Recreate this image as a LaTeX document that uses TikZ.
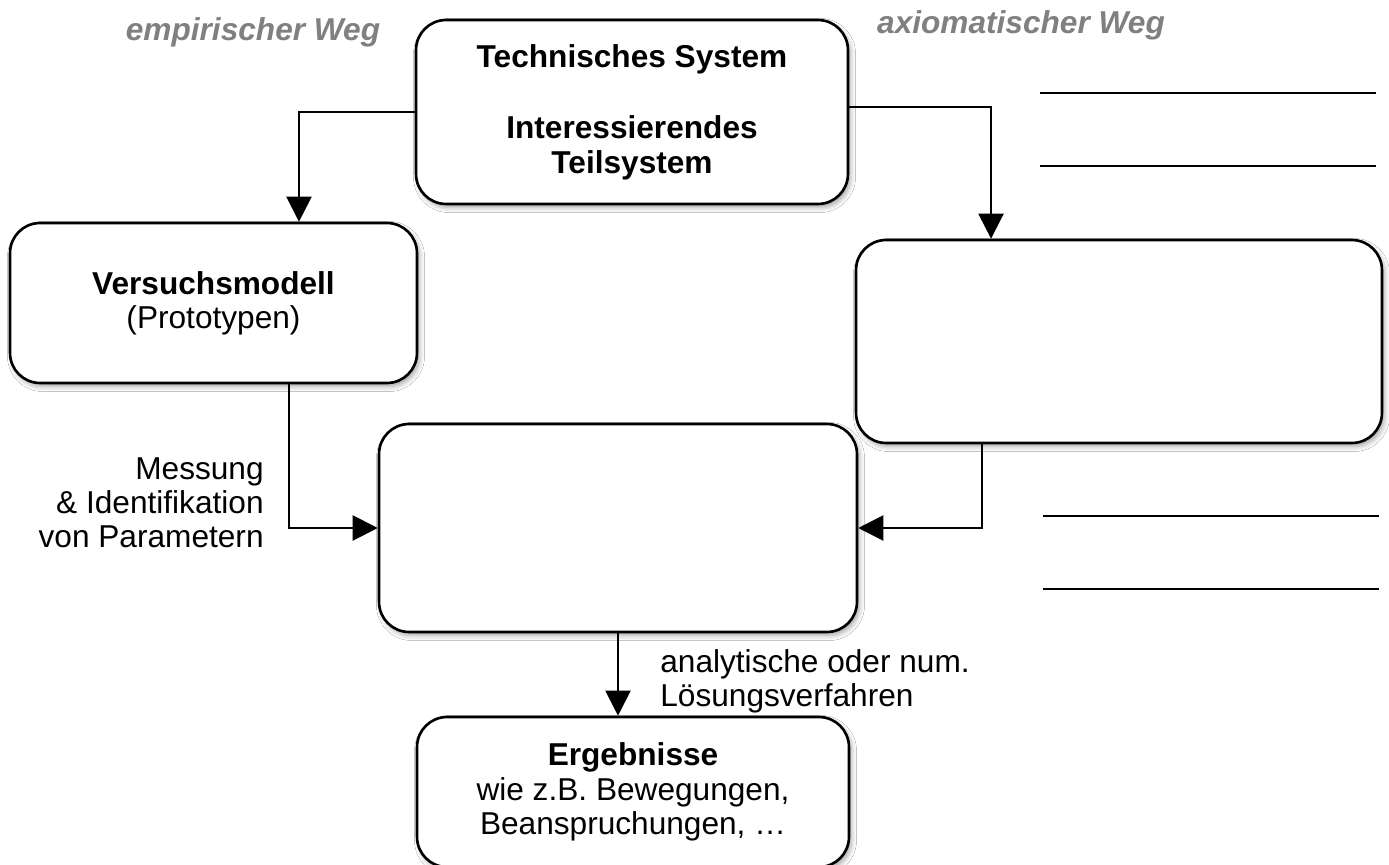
\documentclass[tikz,border=0pt]{standalone}
\usepackage{fontspec}
\setmainfont{Liberation Sans}
\usetikzlibrary{arrows.meta,shadows.blur,calc}
\definecolor{labgray}{HTML}{808080}
\tikzset{
  box/.style={draw=black, line width=1.5pt, fill=white, rounded corners=0.6cm,
    inner sep=0pt, align=center, font=\fontsize{18}{19.5}\selectfont,
    blur shadow={shadow xshift=0.05cm, shadow yshift=-0.07cm, shadow blur radius=0.1cm, shadow opacity=35}},
  arr/.style={draw=black, line width=1.2pt, -{Triangle[length=0.5cm,width=0.5cm]}},
  lab/.style={font=\fontsize{18}{19.5}\selectfont, inner sep=0pt},
  waylab/.style={font=\fontsize{18}{19.5}\selectfont\bfseries\itshape, text=labgray, inner sep=0pt, anchor=base},
  blank/.style={draw=black, line width=0.8pt}
}
\begin{document}
\begin{tikzpicture}[x=0.02cm, y=-0.02cm]
\useasboundingbox (0,0) rectangle (1389,865);
\fill[white] (0,0) rectangle (1389,865);

\node[waylab] (emp) at (253,41) {empirischer Weg};
\node[waylab] (axw) at (1021,34) {axiomatischer Weg};

\node[box, minimum width=8.64cm, minimum height=3.68cm] (tech) at (632,112)
  {\textbf{Technisches System}\\[0.75cm]\textbf{Interessierendes}\\\textbf{Teilsystem}};
\node[box, minimum width=8.14cm, minimum height=3.2cm] (vers) at (213.5,303)
  {\textbf{Versuchsmodell}\\(Prototypen)};
\node[box, minimum width=10.52cm, minimum height=4.06cm] (ax) at (1119,341.5) {};
\node[box, minimum width=9.56cm, minimum height=4.16cm] (mid) at (618,528) {};
\node[box, minimum width=8.64cm, minimum height=3.0cm] (erg) at (633,792)
  {\textbf{Ergebnisse}\\wie z.B. Bewegungen,\\Beanspruchungen, …};

\draw[arr] (tech.west) -| ([xshift=1.71cm]vers.north);
\draw[arr] ([yshift=0.1cm]tech.east) -| ([xshift=-2.56cm]ax.north);
\draw[arr] ([xshift=1.51cm]vers.south) |- (mid.west);
\draw[arr] ([xshift=-2.74cm]ax.south) |- (mid.east);
\draw[arr] (mid.south) -- (mid.south |- erg.north);

\node[lab, align=right, anchor=east] (mess) at (264,503)
  {Messung\\\& Identifikation\\von Parametern};
\node[lab, align=left, anchor=west] (loes) at (660,681)
  {analytische oder num.\\Lösungsverfahren};

\coordinate (l1a) at (1040,93);  \coordinate (l1b) at (1376,93);
\coordinate (l2a) at (1040,166); \coordinate (l2b) at (1376,166);
\coordinate (l3a) at (1043,516); \coordinate (l3b) at (1379,516);
\coordinate (l4a) at (1043,589); \coordinate (l4b) at (1379,589);
\draw[blank] (l1a) -- (l1b);
\draw[blank] (l2a) -- (l2b);
\draw[blank] (l3a) -- (l3b);
\draw[blank] (l4a) -- (l4b);
\end{tikzpicture}
\end{document}
